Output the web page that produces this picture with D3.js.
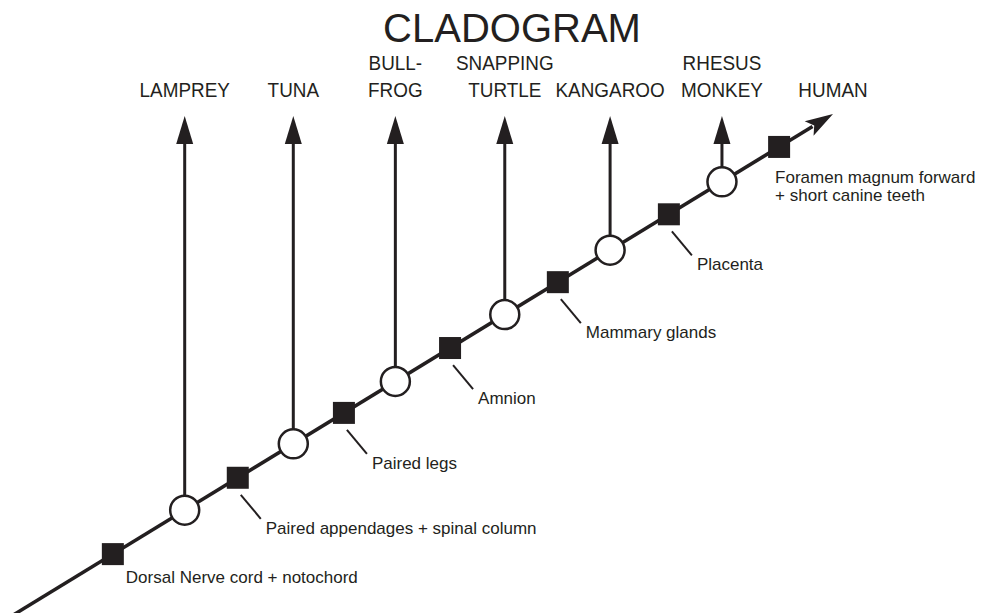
<!DOCTYPE html>
<html lang="en">
<head>
  <meta charset="utf-8">
  <script src="https://d3js.org/d3.v7.min.js"></script>
  <style>
    body { margin: 0; background: #fff; }
    svg { display: block; font-family: Arial, "Liberation Sans", Helvetica, sans-serif; }
  </style>
</head>
<body>
  <svg id="chart"></svg>
  <script>
    // position along the trunk, 0 = bottom-left end, 100 = arrow tip (HUMAN)
    var taxa = ['LAMPREY', 'TUNA', 'BULL-\nFROG', 'SNAPPING\nTURTLE', 'KANGAROO', 'RHESUS\nMONKEY', 'HUMAN'];
    var taxaPos = [20.6, 33.9, 46.4, 59.8, 72.7, 86.4, 100];

    var traits = ['Dorsal Nerve cord + notochord', 'Paired appendages + spinal column', 'Paired legs',
      'Amnion', 'Mammary glands', 'Placenta', 'Foramen magnum forward\n+ short canine teeth'];
    var traitPos = [11.8, 27.1, 40.1, 53.1, 66.3, 79.9, 93.4];

    var width = 987,
      height = 613,
      ink = '#231f20';

    var svg = d3.select('#chart')
      .attr('width', width)
      .attr('height', height);

    // trunk runs diagonally, both coords driven by the same position
    var x = d3.scaleLinear().domain([0, 100]).range([16.5, 833]);
    var y = d3.scaleLinear().domain([0, 100]).range([613, 114]);

    var tipY = 116,     // tips of the vertical arrows
      headLen = 28,
      headHalf = 8.5,
      r = 14.5,
      sq = 22;

    svg.append('text')
      .attr('x', 512)
      .attr('y', 42)
      .attr('text-anchor', 'middle')
      .style('font-size', '40px')
      .style('fill', ink)
      .text('CLADOGRAM');

    // trunk line with arrow head at the end
    var ang = Math.atan2(y(100) - y(0), x(100) - x(0));
    var baseX = x(100) - headLen * Math.cos(ang),
      baseY = y(100) - headLen * Math.sin(ang);

    svg.append('line')
      .attr('x1', x(-1)).attr('y1', y(-1))
      .attr('x2', baseX + 4 * Math.cos(ang)).attr('y2', baseY + 4 * Math.sin(ang))
      .attr('stroke', ink)
      .attr('stroke-width', 3.5);

    svg.append('path')
      .attr('d', 'M' + x(100) + ',' + y(100) +
        'L' + (baseX - headHalf * Math.sin(ang)) + ',' + (baseY + headHalf * Math.cos(ang)) +
        'L' + (baseX + 6 * Math.cos(ang)) + ',' + (baseY + 6 * Math.sin(ang)) +
        'L' + (baseX + headHalf * Math.sin(ang)) + ',' + (baseY - headHalf * Math.cos(ang)) + 'Z')
      .attr('fill', ink);

    var branches = taxa.map(function (t, i) {
      return { name: t, pos: taxaPos[i] };
    });
    var sideBranches = branches.filter(function (d) { return d.pos < 100; });

    // vertical arrows
    svg.selectAll('line.branch')
      .data(sideBranches)
      .enter().append('line')
      .attr('class', 'branch')
      .attr('x1', function (d) { return x(d.pos); })
      .attr('x2', function (d) { return x(d.pos); })
      .attr('y1', function (d) { return y(d.pos); })
      .attr('y2', tipY + headLen - 3)
      .attr('stroke', ink)
      .attr('stroke-width', 3);

    svg.selectAll('path.head')
      .data(sideBranches)
      .enter().append('path')
      .attr('class', 'head')
      .attr('d', function (d) {
        var cx = x(d.pos);
        return 'M' + cx + ',' + tipY +
          'L' + (cx + headHalf) + ',' + (tipY + headLen) +
          'L' + (cx - headHalf) + ',' + (tipY + headLen) + 'Z';
      })
      .attr('fill', ink);

    // open circles where branches split off
    svg.selectAll('circle.node')
      .data(sideBranches)
      .enter().append('circle')
      .attr('class', 'node')
      .attr('cx', function (d) { return x(d.pos); })
      .attr('cy', function (d) { return y(d.pos); })
      .attr('r', r)
      .attr('fill', '#fff')
      .attr('stroke', ink)
      .attr('stroke-width', 2.5);

    // taxon labels, one or two lines
    var taxLabels = svg.selectAll('text.taxon')
      .data(branches)
      .enter().append('text')
      .attr('class', 'taxon')
      .attr('text-anchor', 'middle')
      .attr('transform', function (d) {
        return 'translate(' + x(d.pos) + ',97) scale(0.9,1)';
      })
      .style('font-size', '21px')
      .style('fill', ink);

    taxLabels.each(function (d) {
      var lines = d.name.split('\n');
      var t = d3.select(this);
      lines.forEach(function (ln, k) {
        t.append('tspan')
          .attr('x', 0)
          .attr('y', (k - lines.length + 1) * 27)
          .text(ln);
      });
    });

    // derived traits: filled squares
    var traitData = traits.map(function (t, i) {
      return { name: t, pos: traitPos[i], leader: i > 0 && i < traits.length - 1 };
    });

    svg.selectAll('rect.trait')
      .data(traitData)
      .enter().append('rect')
      .attr('class', 'trait')
      .attr('x', function (d) { return x(d.pos) - sq / 2; })
      .attr('y', function (d) { return y(d.pos) - sq / 2; })
      .attr('width', sq)
      .attr('height', sq)
      .attr('fill', ink);

    svg.selectAll('line.leader')
      .data(traitData.filter(function (d) { return d.leader; }))
      .enter().append('line')
      .attr('class', 'leader')
      .attr('x1', function (d) { return x(d.pos) + 3; })
      .attr('y1', function (d) { return y(d.pos) + 17; })
      .attr('x2', function (d) { return x(d.pos) + 23; })
      .attr('y2', function (d) { return y(d.pos) + 41; })
      .attr('stroke', ink)
      .attr('stroke-width', 2);

    var traitLabels = svg.selectAll('text.traitlbl')
      .data(traitData)
      .enter().append('text')
      .attr('class', 'traitlbl')
      .attr('x', function (d) {
        if (!d.leader) return x(d.pos) + (d.pos > 50 ? -4 : 13);
        return x(d.pos) + 28;
      })
      .attr('y', function (d) {
        if (!d.leader) return y(d.pos) + (d.pos > 50 ? 36 : 29);
        return y(d.pos) + 56;
      })
      .style('font-size', '17px')
      .style('fill', ink);

    traitLabels.each(function (d) {
      var t = d3.select(this);
      var px = +t.attr('x');
      d.name.split('\n').forEach(function (ln, k) {
        t.append('tspan')
          .attr('x', px)
          .attr('dy', k ? 18 : 0)
          .text(ln);
      });
    });
  </script>
</body>
</html>
